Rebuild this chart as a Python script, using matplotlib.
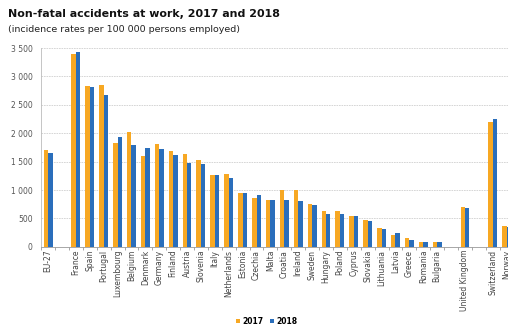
import matplotlib
matplotlib.use("Agg")
import matplotlib.pyplot as plt
import numpy as np
from matplotlib.ticker import FuncFormatter

categories = ["EU-27", "", "France", "Spain", "Portugal", "Luxembourg", "Belgium", "Denmark",
              "Germany", "Finland", "Austria", "Slovenia", "Italy", "Netherlands", "Estonia",
              "Czechia", "Malta", "Croatia", "Ireland", "Sweden", "Hungary", "Poland", "Cyprus",
              "Slovakia", "Lithuania", "Latvia", "Greece", "Romania", "Bulgaria", "",
              "United Kingdom", "", "Switzerland", "Norway"]
v2017 = [1703, np.nan, 3388, 2836, 2842, 1832, 2014, 1603, 1820, 1691, 1627, 1533, 1274, 1286,
         957, 866, 828, 998, 1004, 757, 640, 628, 552, 470, 329, 211, 164, 88, 88, np.nan,
         710, np.nan, 2202, 370]
v2018 = [1656, np.nan, 3435, 2819, 2672, 1932, 1785, 1732, 1720, 1621, 1468, 1456, 1262, 1221,
         940, 922, 828, 828, 799, 740, 587, 575, 546, 464, 323, 241, 117, 88, 88, np.nan,
         693, np.nan, 2260, 350]
yticks = [0, 500, 1000, 1500, 2000, 2500, 3000, 3500]

orange = "#F7A823"
blue = "#2A6EBB"

fig = plt.figure(figsize=(5.08, 3.27), dpi=100)
ax = fig.add_axes([0.081, 0.245, 0.93, 0.608])
x = np.arange(len(categories))
w = 0.32
ax.bar(x - w / 2, v2017, width=w, color=orange, label="2017", zorder=3)
ax.bar(x + w / 2, v2018, width=w, color=blue, label="2018", zorder=3)

ax.set_ylim(0, 3500)
ax.set_xlim(-0.5, 33.08)
ax.set_yticks(yticks)
ax.yaxis.set_major_formatter(FuncFormatter(lambda v, p: f"{int(v):,}".replace(",", " ")))
ax.tick_params(axis="y", length=0, labelsize=5.5, labelcolor="#555555", pad=6)
ax.grid(axis="y", color="#d0d0d0", linestyle=(0, (2, 1)), linewidth=0.6, zorder=0)

ax.set_xticks(x)
ax.set_xticklabels(categories, rotation=90, fontsize=5.5, color="#444444")
ax.tick_params(axis="x", length=0, pad=2)
ax.set_xticks(np.arange(-0.5, 34, 1), minor=True)
ax.tick_params(axis="x", which="minor", length=2.5, color="#999999", width=0.6)

for s in ["top", "right"]:
    ax.spines[s].set_visible(False)
ax.spines["left"].set_color("#bbbbbb")
ax.spines["left"].set_linewidth(0.6)
ax.spines["bottom"].set_color("#999999")
ax.spines["bottom"].set_linewidth(0.6)

fig.text(0.016, 0.957, "Non-fatal accidents at work, 2017 and 2018", fontsize=7.9,
         fontweight="bold", color="#111111", va="center", ha="left")
fig.text(0.016, 0.911, "(incidence rates per 100 000 persons employed)", fontsize=6.8,
         color="#222222", va="center", ha="left")

leg = fig.legend(loc="center", bbox_to_anchor=(0.525, 0.018), ncol=2, frameon=False,
                 handlelength=0.5, handleheight=0.5, handletextpad=0.3,
                 columnspacing=0.9, prop={"weight": "bold", "size": 5.5})
fig.savefig("out.png", dpi=100)
